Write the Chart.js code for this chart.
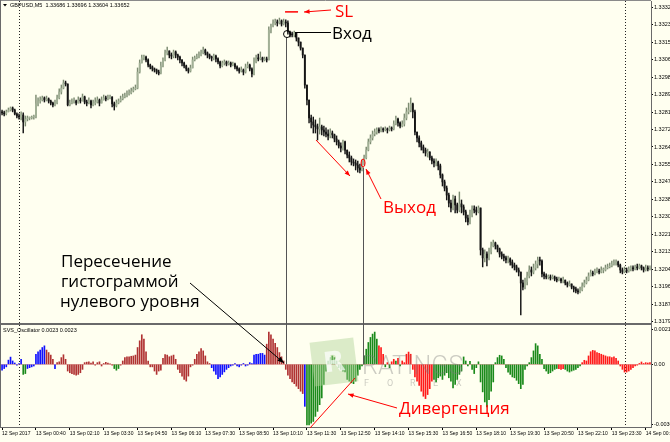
<!DOCTYPE html>
<html>
<head>
<meta charset="utf-8">
<script src="https://cdn.jsdelivr.net/npm/chart.js@4.4.1/dist/chart.umd.min.js"></script>
<style>
html,body{margin:0;padding:0;background:#fffff0;}
canvas{display:block;}
</style>
</head>
<body>
<canvas id="chart" width="670" height="442"></canvas>
<script>
// GBPUSD M5, 12 Sep 23:20 .. 14 Sep ~00:50, one entry per bar
const OPEN = [
1.32811,1.32806,1.32801,1.32811,1.32820,1.32830,1.32820,1.32801,1.32791,1.32786,
1.32796,1.32762,1.32776,1.32781,1.32781,1.32786,1.32786,1.32850,1.32864,1.32869,
1.32879,1.32869,1.32874,1.32864,1.32854,1.32845,1.32854,1.32879,1.32908,1.32927,
1.32952,1.32947,1.32845,1.32854,1.32859,1.32864,1.32854,1.32869,1.32864,1.32884,
1.32859,1.32854,1.32864,1.32845,1.32854,1.32859,1.32869,1.32854,1.32869,1.32879,
1.32874,1.32879,1.32884,1.32850,1.32840,1.32854,1.32864,1.32874,1.32884,1.32888,
1.32898,1.32903,1.32913,1.32923,1.32927,1.33005,1.33049,1.33074,1.33078,1.33064,
1.33039,1.33030,1.33020,1.33015,1.33005,1.33000,1.33035,1.33064,1.33098,1.33108,
1.33088,1.33083,1.33103,1.33088,1.33078,1.33064,1.33049,1.33035,1.33020,1.33010,
1.33025,1.33064,1.33074,1.33078,1.33088,1.33098,1.33112,1.33098,1.33088,1.33078,
1.33074,1.33083,1.33069,1.33054,1.33035,1.33049,1.33054,1.33044,1.33049,1.33039,
1.33044,1.33030,1.33020,1.33010,1.33015,1.33005,1.33030,1.33039,1.33020,1.32996,
1.33054,1.33074,1.33069,1.33074,1.33064,1.33069,1.33064,1.33210,1.33229,1.33244,
1.33249,1.33244,1.33254,1.33239,1.33249,1.33244,1.33200,1.33190,1.33186,1.33195,
1.33171,1.33151,1.33122,1.33088,1.32942,1.32869,1.32781,1.32762,1.32747,1.32738,
1.32728,1.32738,1.32723,1.32713,1.32703,1.32694,1.32708,1.32699,1.32679,1.32665,
1.32645,1.32635,1.32665,1.32625,1.32601,1.32587,1.32567,1.32562,1.32552,1.32538,
1.32528,1.32562,1.32587,1.32625,1.32665,1.32684,1.32703,1.32713,1.32723,1.32718,
1.32728,1.32723,1.32728,1.32723,1.32733,1.32728,1.32752,1.32776,1.32757,1.32742,
1.32752,1.32781,1.32811,1.32820,1.32850,1.32811,1.32713,1.32684,1.32660,1.32640,
1.32625,1.32611,1.32616,1.32587,1.32572,1.32562,1.32567,1.32548,1.32504,1.32470,
1.32440,1.32406,1.32367,1.32343,1.32387,1.32358,1.32333,1.32363,1.32348,1.32324,
1.32294,1.32275,1.32309,1.32338,1.32333,1.32324,1.32343,1.32139,1.32100,1.32119,
1.32100,1.32129,1.32158,1.32173,1.32158,1.32143,1.32119,1.32109,1.32100,1.32090,
1.32095,1.32080,1.32065,1.32056,1.32041,1.32031,1.31978,1.31958,1.31983,1.32012,
1.32041,1.32031,1.32051,1.32070,1.32090,1.32085,1.32022,1.32012,1.32007,1.32007,
1.32002,1.32007,1.31997,1.31992,1.31997,1.31988,1.31992,1.31978,1.31968,1.31973,
1.31958,1.31949,1.31939,1.31934,1.31944,1.31963,1.31978,1.31992,1.32012,1.32027,
1.32022,1.32031,1.32036,1.32031,1.32041,1.32041,1.32051,1.32056,1.32061,1.32070,
1.32075,1.32080,1.32065,1.32041,1.32031,1.32041,1.32036,1.32046,1.32051,1.32046,
1.32056,1.32051,1.32061,1.32051,1.32041,1.32051,1.32046];
const HIGH = [
1.32820,1.32815,1.32820,1.32830,1.32835,1.32835,1.32825,1.32806,1.32801,1.32811,
1.32806,1.32791,1.32791,1.32786,1.32791,1.32796,1.32893,1.32879,1.32884,1.32888,
1.32884,1.32888,1.32879,1.32869,1.32859,1.32869,1.32893,1.32923,1.32942,1.32966,
1.32961,1.32947,1.32869,1.32874,1.32879,1.32869,1.32884,1.32879,1.32898,1.32888,
1.32869,1.32879,1.32869,1.32869,1.32879,1.32884,1.32874,1.32884,1.32893,1.32888,
1.32893,1.32893,1.32884,1.32859,1.32869,1.32874,1.32888,1.32898,1.32903,1.32913,
1.32918,1.32927,1.32932,1.32942,1.33025,1.33064,1.33088,1.33088,1.33083,1.33069,
1.33044,1.33035,1.33025,1.33020,1.33015,1.33054,1.33074,1.33112,1.33127,1.33108,
1.33098,1.33112,1.33108,1.33093,1.33083,1.33064,1.33054,1.33039,1.33025,1.33039,
1.33078,1.33083,1.33093,1.33103,1.33112,1.33127,1.33117,1.33103,1.33093,1.33083,
1.33093,1.33088,1.33074,1.33059,1.33059,1.33064,1.33059,1.33059,1.33054,1.33054,
1.33049,1.33035,1.33025,1.33030,1.33020,1.33044,1.33054,1.33044,1.33025,1.33074,
1.33088,1.33093,1.33103,1.33078,1.33078,1.33078,1.33225,1.33239,1.33259,1.33263,
1.33259,1.33268,1.33259,1.33263,1.33259,1.33254,1.33205,1.33200,1.33205,1.33195,
1.33171,1.33151,1.33122,1.33088,1.32942,1.32869,1.32796,1.32786,1.32772,1.32752,
1.32781,1.32747,1.32742,1.32733,1.32723,1.32728,1.32718,1.32703,1.32694,1.32674,
1.32660,1.32674,1.32669,1.32625,1.32616,1.32596,1.32582,1.32577,1.32572,1.32557,
1.32577,1.32601,1.32640,1.32679,1.32699,1.32718,1.32728,1.32733,1.32733,1.32738,
1.32733,1.32738,1.32733,1.32742,1.32738,1.32767,1.32791,1.32781,1.32762,1.32767,
1.32801,1.32830,1.32854,1.32879,1.32854,1.32820,1.32713,1.32694,1.32669,1.32650,
1.32635,1.32630,1.32616,1.32596,1.32582,1.32582,1.32572,1.32557,1.32509,1.32479,
1.32450,1.32416,1.32382,1.32406,1.32401,1.32367,1.32421,1.32382,1.32358,1.32333,
1.32309,1.32333,1.32353,1.32353,1.32348,1.32353,1.32343,1.32148,1.32139,1.32129,
1.32148,1.32177,1.32187,1.32177,1.32163,1.32148,1.32129,1.32119,1.32109,1.32109,
1.32100,1.32090,1.32075,1.32065,1.32051,1.32031,1.31992,1.32002,1.32031,1.32061,
1.32056,1.32070,1.32085,1.32104,1.32104,1.32090,1.32031,1.32022,1.32017,1.32017,
1.32017,1.32012,1.32007,1.32007,1.32002,1.32007,1.31992,1.31983,1.31988,1.31973,
1.31963,1.31958,1.31949,1.31958,1.31978,1.31992,1.32007,1.32027,1.32041,1.32036,
1.32046,1.32051,1.32046,1.32056,1.32051,1.32065,1.32070,1.32075,1.32085,1.32090,
1.32090,1.32085,1.32070,1.32051,1.32056,1.32051,1.32056,1.32061,1.32061,1.32065,
1.32070,1.32070,1.32065,1.32056,1.32065,1.32061,1.32061];
const LOW = [
1.32796,1.32791,1.32796,1.32811,1.32815,1.32811,1.32796,1.32781,1.32776,1.32772,
1.32708,1.32742,1.32767,1.32772,1.32776,1.32776,1.32781,1.32840,1.32854,1.32864,
1.32859,1.32864,1.32854,1.32845,1.32835,1.32840,1.32850,1.32874,1.32898,1.32923,
1.32937,1.32840,1.32840,1.32850,1.32854,1.32845,1.32854,1.32854,1.32864,1.32850,
1.32840,1.32850,1.32830,1.32840,1.32845,1.32854,1.32840,1.32854,1.32869,1.32864,
1.32869,1.32874,1.32835,1.32820,1.32835,1.32850,1.32859,1.32869,1.32879,1.32884,
1.32893,1.32898,1.32908,1.32918,1.32923,1.33000,1.33049,1.33064,1.33054,1.33030,
1.33020,1.33010,1.33005,1.32996,1.32991,1.32996,1.33030,1.33059,1.33088,1.33074,
1.33069,1.33074,1.33074,1.33064,1.33049,1.33035,1.33025,1.33010,1.33000,1.33005,
1.33025,1.33059,1.33069,1.33074,1.33083,1.33093,1.33088,1.33074,1.33069,1.33059,
1.33064,1.33054,1.33044,1.33025,1.33030,1.33039,1.33035,1.33039,1.33030,1.33035,
1.33020,1.33010,1.33000,1.33005,1.32991,1.33000,1.33025,1.33010,1.32981,1.32991,
1.33049,1.33059,1.33064,1.33054,1.33059,1.33054,1.33064,1.33195,1.33225,1.33234,
1.33229,1.33239,1.33229,1.33234,1.33225,1.33190,1.33176,1.33176,1.33176,1.33156,
1.33132,1.33112,1.33074,1.32927,1.32845,1.32757,1.32733,1.32708,1.32708,1.32674,
1.32703,1.32699,1.32694,1.32689,1.32674,1.32684,1.32684,1.32665,1.32650,1.32635,
1.32616,1.32625,1.32606,1.32587,1.32567,1.32552,1.32548,1.32528,1.32518,1.32514,
1.32523,1.32552,1.32582,1.32621,1.32655,1.32674,1.32694,1.32703,1.32708,1.32713,
1.32713,1.32718,1.32708,1.32718,1.32718,1.32723,1.32747,1.32742,1.32733,1.32738,
1.32742,1.32772,1.32801,1.32811,1.32781,1.32699,1.32665,1.32640,1.32625,1.32611,
1.32596,1.32591,1.32577,1.32557,1.32543,1.32548,1.32528,1.32489,1.32450,1.32426,
1.32382,1.32348,1.32324,1.32333,1.32319,1.32319,1.32324,1.32319,1.32309,1.32275,
1.32260,1.32265,1.32299,1.32319,1.32309,1.32319,1.32114,1.32056,1.32080,1.32061,
1.32090,1.32119,1.32153,1.32143,1.32129,1.32104,1.32095,1.32085,1.32075,1.32075,
1.32065,1.32051,1.32041,1.32031,1.32012,1.31822,1.31944,1.31949,1.31968,1.32002,
1.32012,1.32022,1.32041,1.32051,1.32065,1.32007,1.31997,1.31997,1.31997,1.31992,
1.31997,1.31988,1.31983,1.31988,1.31978,1.31978,1.31968,1.31958,1.31963,1.31949,
1.31934,1.31929,1.31924,1.31929,1.31939,1.31958,1.31973,1.31988,1.32012,1.32012,
1.32017,1.32027,1.32022,1.32027,1.32027,1.32036,1.32046,1.32051,1.32056,1.32065,
1.32065,1.32056,1.32027,1.32022,1.32027,1.32027,1.32031,1.32036,1.32036,1.32041,
1.32041,1.32046,1.32041,1.32031,1.32036,1.32036,1.32041];
const CLOSE = [
1.32806,1.32801,1.32811,1.32820,1.32830,1.32820,1.32801,1.32791,1.32786,1.32796,
1.32762,1.32776,1.32781,1.32781,1.32786,1.32786,1.32850,1.32864,1.32869,1.32879,
1.32869,1.32874,1.32864,1.32854,1.32845,1.32854,1.32879,1.32908,1.32927,1.32952,
1.32947,1.32845,1.32854,1.32859,1.32864,1.32854,1.32869,1.32864,1.32884,1.32859,
1.32854,1.32864,1.32845,1.32854,1.32859,1.32869,1.32854,1.32869,1.32879,1.32874,
1.32879,1.32884,1.32850,1.32840,1.32854,1.32864,1.32874,1.32884,1.32888,1.32898,
1.32903,1.32913,1.32923,1.32927,1.33005,1.33049,1.33074,1.33078,1.33064,1.33039,
1.33030,1.33020,1.33015,1.33005,1.33000,1.33035,1.33064,1.33098,1.33108,1.33088,
1.33083,1.33103,1.33088,1.33078,1.33064,1.33049,1.33035,1.33020,1.33010,1.33025,
1.33064,1.33074,1.33078,1.33088,1.33098,1.33112,1.33098,1.33088,1.33078,1.33074,
1.33083,1.33069,1.33054,1.33035,1.33049,1.33054,1.33044,1.33049,1.33039,1.33044,
1.33030,1.33020,1.33010,1.33015,1.33005,1.33030,1.33039,1.33020,1.32996,1.33054,
1.33074,1.33069,1.33074,1.33064,1.33069,1.33064,1.33210,1.33229,1.33244,1.33249,
1.33244,1.33254,1.33239,1.33249,1.33244,1.33200,1.33190,1.33186,1.33195,1.33171,
1.33151,1.33122,1.33088,1.32942,1.32869,1.32781,1.32762,1.32747,1.32738,1.32728,
1.32738,1.32723,1.32713,1.32703,1.32694,1.32708,1.32699,1.32679,1.32665,1.32645,
1.32635,1.32665,1.32625,1.32601,1.32587,1.32567,1.32562,1.32552,1.32538,1.32528,
1.32562,1.32587,1.32625,1.32665,1.32684,1.32703,1.32713,1.32723,1.32718,1.32728,
1.32723,1.32728,1.32723,1.32733,1.32728,1.32752,1.32776,1.32757,1.32742,1.32752,
1.32781,1.32811,1.32820,1.32850,1.32811,1.32713,1.32684,1.32660,1.32640,1.32625,
1.32611,1.32616,1.32587,1.32572,1.32562,1.32567,1.32548,1.32504,1.32470,1.32440,
1.32406,1.32367,1.32343,1.32387,1.32358,1.32333,1.32363,1.32348,1.32324,1.32294,
1.32275,1.32309,1.32338,1.32333,1.32324,1.32343,1.32139,1.32100,1.32119,1.32100,
1.32129,1.32158,1.32173,1.32158,1.32143,1.32119,1.32109,1.32100,1.32090,1.32095,
1.32080,1.32065,1.32056,1.32041,1.32031,1.31978,1.31958,1.31983,1.32012,1.32041,
1.32031,1.32051,1.32070,1.32090,1.32085,1.32022,1.32012,1.32007,1.32007,1.32002,
1.32007,1.31997,1.31992,1.31997,1.31988,1.31992,1.31978,1.31968,1.31973,1.31958,
1.31949,1.31939,1.31934,1.31944,1.31963,1.31978,1.31992,1.32012,1.32027,1.32022,
1.32031,1.32036,1.32031,1.32041,1.32041,1.32051,1.32056,1.32061,1.32070,1.32075,
1.32080,1.32065,1.32041,1.32031,1.32041,1.32036,1.32046,1.32051,1.32046,1.32056,
1.32051,1.32061,1.32051,1.32041,1.32051,1.32046,1.32051];

// SVS_Oscillator histogram, one value per bar
const OSC = [
-0.00035,-0.00025,-0.00015,0.00025,0.00043,0.0002,0.00008,-0.00005,0.00005,0.0003,
-0.0006,-0.00055,-0.00025,-0.0002,-0.00015,-0.0001,0.0006,0.00075,0.00085,0.001,
0.0011,0.00085,0.0007,0.00055,0.0003,-0.00026,0.0001,0.00015,0.0004,0.00057,
0.0003,-0.0004,-0.0005,-0.00055,-0.0006,-0.00065,-0.0006,-0.0005,-0.0003,0.0001,
0.00013,0.00015,0.00008,0.00015,-0.00005,0.0001,0.00015,-0.0001,0.00005,0.00012,
0.00008,0.00003,-0.00005,-0.00025,-0.00035,-0.00025,-0.00005,0.0002,0.0004,0.00045,
0.00045,0.00048,0.0005,0.00055,0.001,0.0014,0.00176,0.0015,0.00075,0.0002,
-0.00015,-0.00015,-0.0004,-0.0006,-0.0004,-0.00035,0.00035,0.00058,0.00055,0.00045,
0.0005,0.00055,0.0003,-0.0003,-0.0005,-0.0007,-0.0009,-0.001,-0.0007,-0.00015,
-0.00005,0.0003,0.0006,0.00075,0.00093,0.0008,0.0005,0.00015,0.00005,-0.0002,
-0.0004,-0.0006,-0.00085,-0.00075,-0.0006,-0.00045,-0.0003,-0.0002,-0.0001,-0.00005,
0.00005,-0.0001,-0.00015,-0.00005,0.00005,-0.0001,-0.00005,0.0001,0.00005,0.00055,
0.0006,0.0006,0.00065,0.00065,0.00055,0.0012,0.00192,0.00175,0.0015,0.00125,
0.001,0.0007,0.00045,0.0002,-0.0003,-0.00065,-0.00085,-0.00105,-0.00115,-0.0013,
-0.00145,-0.0016,-0.00174,-0.0025,-0.0036,-0.0036,-0.0035,-0.0034,-0.0031,-0.0028,
-0.0024,-0.002,-0.0012,-0.0004,0.0002,0.0004,0.0005,0.0004,0.0002,-0.0002,
-0.0003,-0.0004,-0.00045,-0.0009,-0.001,-0.0011,-0.00115,-0.001,-0.00065,-0.0003,
-0.0001,0.0005,0.0009,0.0013,0.0016,0.0018,0.00192,0.0015,0.0011,0.001,
0.0006,-0.00015,0.0001,-0.0002,0.00015,0.0003,0.0002,0.00035,-0.0001,0.0002,
0.0001,0.0006,0.00073,0.0006,-0.0003,-0.00075,-0.001,-0.00125,-0.0016,-0.0019,
-0.00204,-0.0018,-0.00145,-0.001,-0.0009,-0.00105,-0.0008,-0.0007,-0.0009,-0.00065,
-0.0005,-0.0008,-0.001,-0.0014,-0.0012,-0.0009,-0.0006,-0.0004,0.00044,0.0002,
-0.0001,0.00018,-0.0003,-0.00055,-0.0002,0.00015,-0.00105,-0.00164,-0.00224,-0.00253,
-0.0021,-0.0016,-0.00105,0.0001,0.0004,0.00054,0.0005,0.0003,-0.0002,-0.00046,
-0.0006,-0.00075,-0.0008,-0.00095,-0.00115,-0.00145,-0.0012,-0.0003,-0.0001,0.0001,
0.0004,0.0008,0.00123,0.0011,0.0006,0.0003,-0.00026,-0.0004,-0.00055,-0.0005,
-0.0004,-0.0003,-0.00025,-0.00026,-0.0003,-0.00026,-0.0003,-0.0004,-0.00046,-0.0004,
-0.00035,-0.0003,-0.0002,-0.0001,0.0001,0.00024,0.0002,0.0005,0.00075,0.00083,
0.0008,0.0007,0.00065,0.0006,0.00055,0.0005,0.00045,0.00045,0.0004,0.00045,
0.00035,0.0002,-0.0001,-0.0003,-0.00046,-0.00046,-0.0004,-0.0003,-0.0002,-0.0001,
-0.00005,0.00005,0.00014,0.00005,0.0001,0.00008,0.0001];

// histogram colour state, run-length: [state, number of bars]
const OSC_STATE_RUNS = [
  ['B',10],['G',2],['B',9],['M',4],['B',1],['M',27],['G',3],['M',43],['B',26],['M',18],
  ['B',1],['G',34],['R',3],['G',1],['R',1],['G',1],['R',2],['G',1],['R',1],['G',1],
  ['R',2],['R',13],['G',59],['R',3],['G',8],['R',33]
];

const PRICE_TICKS = [1.31790,1.31875,1.31960,1.32045,1.32130,1.32215,1.32300,1.32385,1.32470,
  1.32555,1.32640,1.32725,1.32810,1.32895,1.32980,1.33065,1.33150,1.33235,1.33320];
const OSC_TICKS = [-0.0036, 0, 0.0021];
const TIME_TICKS = ['12 Sep 2017','13 Sep 00:40','13 Sep 02:10','13 Sep 03:30','13 Sep 04:50',
  '13 Sep 06:10','13 Sep 07:30','13 Sep 08:50','13 Sep 10:10','13 Sep 11:30','13 Sep 12:50',
  '13 Sep 14:10','13 Sep 15:30','13 Sep 16:50','13 Sep 18:10','13 Sep 19:30','13 Sep 20:50',
  '13 Sep 22:10','13 Sep 23:30','14 Sep 00:50'];
const BARS_PER_TIME_TICK = 16;
const DAY_BREAK_BARS = [8, 294];

// trade marks (bar position, price)
const ENTRY_BAR = 134.6, ENTRY_PRICE = 1.33190;
const EXIT_BAR = 170.5, EXIT_PRICE = 1.32562;
const SL_PRICE = 1.33298;

const STATE_COLORS = { B: '#1010ff', M: '#b03232', G: '#1a8a1a', R: '#ff1a1a' };
const UP_BODY = '#a2b096', UP_WICK = '#7d8c72', DOWN = '#151515';
const TICK_FONT = { family: "'Liberation Sans', Arial, sans-serif", size: 5.5 };
const NOTE_FONT = "17px 'Open Sans', 'DejaVu Sans', sans-serif";

const oscState = [];
OSC_STATE_RUNS.forEach(([s, n]) => { for (let k = 0; k < n; k++) oscState.push(s); });
const bullish = CLOSE.map((c, i) => c >= OPEN[i]);

function arrow(ctx, x1, y1, x2, y2, color, head){
  ctx.strokeStyle = color; ctx.fillStyle = color; ctx.lineWidth = 1;
  ctx.beginPath(); ctx.moveTo(x1, y1); ctx.lineTo(x2, y2); ctx.stroke();
  if(!head) return;
  const a = Math.atan2(y2 - y1, x2 - x1);
  ctx.beginPath();
  ctx.moveTo(x2, y2);
  ctx.lineTo(x2 - head*Math.cos(a - 0.38), y2 - head*Math.sin(a - 0.38));
  ctx.lineTo(x2 - head*Math.cos(a + 0.38), y2 - head*Math.sin(a + 0.38));
  ctx.closePath(); ctx.fill();
}

function hline(ctx, x1, x2, y, color, w){
  ctx.strokeStyle = color; ctx.lineWidth = w || 1;
  ctx.beginPath(); ctx.moveTo(x1, y); ctx.lineTo(x2, y); ctx.stroke();
}
function vline(ctx, x, y1, y2, color, w){
  ctx.strokeStyle = color; ctx.lineWidth = w || 1;
  ctx.beginPath(); ctx.moveTo(x, y1); ctx.lineTo(x, y2); ctx.stroke();
}

const terminalArt = {
  id: 'terminalArt',
  beforeDraw(chart){
    const { ctx, width, height } = chart;
    ctx.save(); ctx.fillStyle = '#fffff0'; ctx.fillRect(0, 0, width, height); ctx.restore();
  },
  beforeDatasetsDraw(chart){
    const { ctx, chartArea: a, scales: { x, y2 } } = chart;
    ctx.save();
    ctx.setLineDash([1, 2]);
    DAY_BREAK_BARS.forEach(i => {
      const px = Math.round(x.getPixelForValue(i)) + 0.5;
      vline(ctx, px, a.top, a.bottom, '#222');
    });
    ctx.setLineDash([]);
    const z = Math.round(y2.getPixelForValue(0)) + 0.5;
    hline(ctx, a.left, a.right, z, 'rgba(200,90,90,0.45)');
    ctx.restore();
  },
  afterDatasetsDraw(chart){
    const { ctx, chartArea: a, scales: { x, y, y2 } } = chart;
    ctx.save();

    // panel frame
    hline(ctx, 0, a.right, 0.5, '#8a8a8a');
    vline(ctx, 0.5, 0, a.bottom, '#6a6a6a');
    hline(ctx, 0, a.right, y2.top, '#6a6a6a', 2);
    hline(ctx, 0, a.right, a.bottom + 0.5, '#6a6a6a');

    // watermark
    ctx.save();
    ctx.translate(334, 362); ctx.rotate(-0.12);
    ctx.fillStyle = 'rgba(175,210,150,0.45)';
    ctx.fillRect(-22, -22, 44, 44);
    ctx.fillStyle = 'rgba(255,255,255,0.7)';
    ctx.font = "bold 28px 'DejaVu Sans', sans-serif";
    ctx.textAlign = 'center'; ctx.textBaseline = 'middle';
    ctx.fillText('R', 0, 2);
    ctx.restore();
    ctx.fillStyle = 'rgba(120,120,120,0.38)';
    ctx.font = "300 25px Roboto, sans-serif";
    ctx.textBaseline = 'alphabetic';
    ctx.fillText('RATINGS', 362, 374);
    ctx.font = "9px Roboto, sans-serif";
    ['F','O','R','E','X'].forEach((ch, k) => ctx.fillText(ch, 364 + k*23, 386));

    // trade lines
    const xe = x.getPixelForValue(ENTRY_BAR), ye = y.getPixelForValue(ENTRY_PRICE);
    const xx = x.getPixelForValue(EXIT_BAR), yx = y.getPixelForValue(EXIT_PRICE);
    const yz = y2.getPixelForValue(0);
    const ysl = y.getPixelForValue(SL_PRICE);
    vline(ctx, Math.round(xe) - 0.5, ye + 3.5, yz, '#555');
    vline(ctx, Math.round(xx) + 0.5, yx + 4.5, yz, '#555');

    ctx.strokeStyle = '#000'; ctx.lineWidth = 1;
    ctx.beginPath(); ctx.arc(xe, ye, 3.5, 0, Math.PI*2); ctx.stroke();
    ctx.strokeStyle = '#ff0000';
    ctx.beginPath(); ctx.ellipse(xx, yx, 2, 4, 0, 0, Math.PI*2); ctx.stroke();

    // SL
    hline(ctx, xe - 2, xe + 11, ysl, '#ff0000', 1.5);
    arrow(ctx, 331, 10, 304, 12, '#ff0000', 6);
    // Вход
    hline(ctx, xe + 8, 331, 32.5, '#000');
    vline(ctx, xe + 8.5, 32, 37, '#000');
    // Выход
    arrow(ctx, 381, 199, 366, 169, '#ff0000', 6);
    // divergence on price
    arrow(ctx, 316, 140, 350, 176, '#ff0000', 6);
    // zero crossing
    arrow(ctx, 190, 283, 284, 363, '#000', 7);
    // divergence on histogram
    arrow(ctx, 310, 428, 355, 378, '#ff0000', 0);
    arrow(ctx, 397, 408, 348, 394, '#ff0000', 6);

    // notes
    ctx.font = NOTE_FONT; ctx.textBaseline = 'alphabetic'; ctx.textAlign = 'left';
    ctx.fillStyle = '#ff0000';
    ctx.fillText('SL', 335, 17);
    ctx.fillText('Выход', 383, 213);
    ctx.fillText('Дивергенция', 399, 414);
    ctx.fillStyle = '#000';
    ctx.fillText('Вход', 332, 39);
    ctx.fillText('Пересечение', 61, 267);
    ctx.fillText('гистограммой', 61, 287);
    ctx.fillText('нулевого уровня', 60, 307);

    // window captions
    ctx.font = "5.5px 'Liberation Sans', Arial, sans-serif";
    ctx.textBaseline = 'middle';
    ctx.fillStyle = '#000';
    ctx.beginPath(); ctx.moveTo(3, 4); ctx.lineTo(7, 4); ctx.lineTo(5, 6.5); ctx.closePath(); ctx.fill();
    ctx.fillText('GBPUSD,M5  1.33686 1.33696 1.33604 1.33652', 10, 5);
    ctx.fillText('SVS_Oscillator 0.0023 0.0023', 3, y2.top + 6);
    ctx.restore();
  }
};

function zeroPad(s){ s.paddingTop = 0; s.paddingBottom = 0; s.paddingLeft = 0; s.paddingRight = 0; }

new Chart(document.getElementById('chart').getContext('2d'), {
  type: 'bar',
  data: {
    labels: CLOSE.map((_, i) => i),
    datasets: [
      { label: 'body', data: OPEN.map((o, i) => [o, CLOSE[i]]), yAxisID: 'y',
        backgroundColor: bullish.map(b => b ? UP_BODY : DOWN),
        barThickness: 1.2, minBarLength: 1, grouped: false, borderWidth: 0, order: 1 },
      { label: 'wick', data: LOW.map((l, i) => [l, HIGH[i]]), yAxisID: 'y',
        backgroundColor: bullish.map(b => b ? UP_WICK : DOWN),
        barThickness: 0.8, grouped: false, borderWidth: 0, order: 2 },
      { label: 'SVS_Oscillator', data: OSC, yAxisID: 'y2',
        backgroundColor: oscState.map(s => STATE_COLORS[s]),
        barThickness: 1, grouped: false, borderWidth: 0, order: 3 }
    ]
  },
  options: {
    responsive: false,
    devicePixelRatio: 1,
    animation: false,
    events: [],
    layout: { padding: { left: 1, top: 1, right: 0, bottom: 0 } },
    plugins: { legend: { display: false }, tooltip: { enabled: false } },
    scales: {
      x: {
        type: 'category', offset: true,
        grid: { drawOnChartArea: false, tickLength: 3, color: '#000', offset: false },
        border: { color: '#6a6a6a' },
        ticks: {
          autoSkip: false, maxRotation: 0, minRotation: 0, align: 'start', padding: 1,
          font: { family: TICK_FONT.family, size: 5 }, color: '#000',
          callback: (v, i) => i % BARS_PER_TIME_TICK === 0 ? TIME_TICKS[i / BARS_PER_TIME_TICK] : null
        },
        afterFit: s => { s.height = 15; zeroPad(s); }
      },
      y: {
        type: 'linear', position: 'right', stack: 'panes', stackWeight: 323,
        min: 1.31778, max: 1.33351, bounds: 'data',
        afterBuildTicks: s => { s.ticks = PRICE_TICKS.map(v => ({ value: v })); },
        grid: { drawOnChartArea: false, tickLength: 2, color: '#000' },
        border: { color: '#6a6a6a' },
        ticks: { autoSkip: false, padding: 1, font: TICK_FONT, color: '#000', callback: v => v.toFixed(5) },
        afterFit: s => { s.width = 19; zeroPad(s); }
      },
      y2: {
        type: 'linear', position: 'right', stack: 'panes', stackWeight: 103,
        min: -0.00373, max: 0.0024, bounds: 'data',
        afterBuildTicks: s => { s.ticks = OSC_TICKS.map(v => ({ value: v })); },
        grid: { drawOnChartArea: false, tickLength: 2, color: '#000' },
        border: { color: '#6a6a6a' },
        ticks: { autoSkip: false, padding: 1, font: TICK_FONT, color: '#000',
          callback: v => v === 0 ? '0.00' : v.toFixed(4) },
        afterFit: s => { s.width = 19; zeroPad(s); }
      }
    }
  },
  plugins: [terminalArt]
});
</script>
</body>
</html>
